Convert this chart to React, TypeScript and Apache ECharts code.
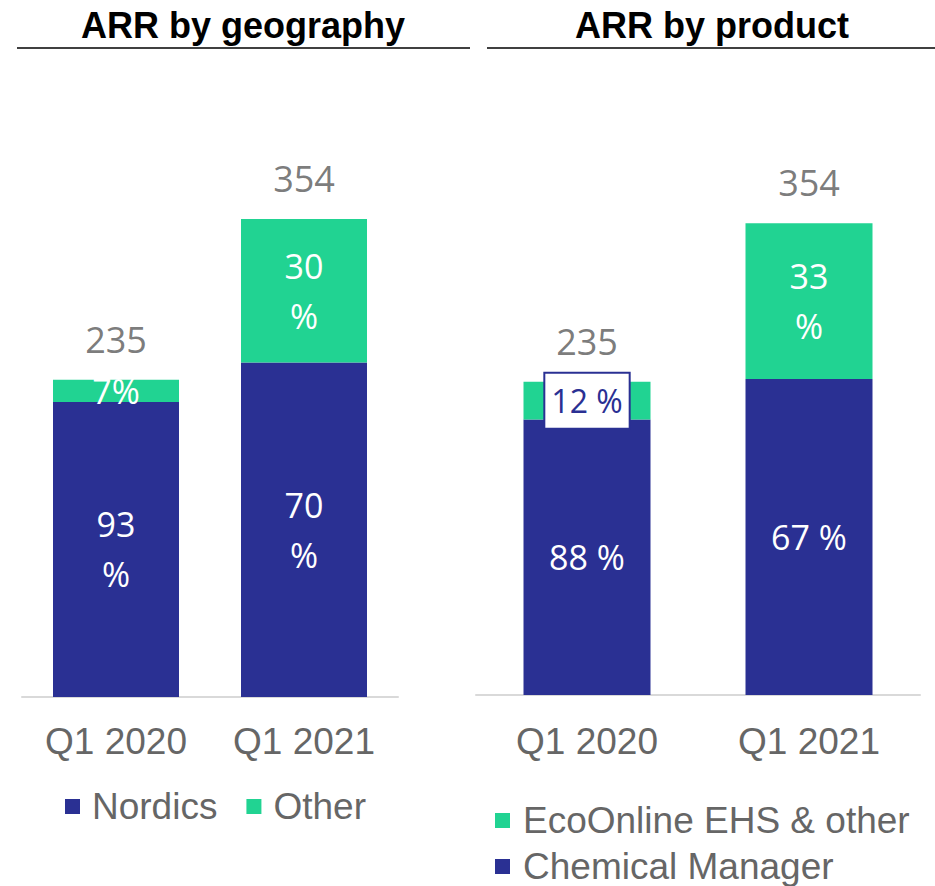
import React, { useEffect, useRef } from "react";
import * as echarts from "echarts";

const categories = ["Q1 2020", "Q1 2021"];

const geoTotals = [235, 354];
const nordicsPct = [93, 70];
const otherPct = [7, 30];
const nordicsLabels = ["93\n%", "70\n%"];
const otherLabels = ["7%", "30\n%"];

const productTotals = [235, 354];
const chemicalPct = [88, 67];
const ecoPct = [12, 33];
const chemicalLabels = ["88 %", "67 %"];
const ecoLabels = ["12 %", "33\n%"];

const NAVY = "#2A3093";
const GREEN = "#21D392";
const GREY = "#666666";
const SANS = "Liberation Sans";
const NUM = "Open Sans";

export default function App() {
  const ref = useRef<HTMLDivElement>(null);

  useEffect(() => {
    if (!ref.current) return;
    const chart = echarts.init(ref.current, undefined, { renderer: "svg" });

    const innerLabel = (labels: string[]) => ({
      show: true,
      position: "inside",
      formatter: (p: any) => labels[p.dataIndex],
      color: "#ffffff",
      fontSize: 34,
      lineHeight: 50,
      fontFamily: NUM,
    });

    const totalLabel = {
      show: true,
      position: "top",
      distance: 22,
      formatter: (p: any) => String(p.value),
      color: "#595959",
      fontSize: 36,
      fontFamily: NUM,
    };

    const xAxisBase = (gridIndex: number, margin: number) => ({
      gridIndex,
      type: "category",
      data: categories,
      axisLine: { lineStyle: { color: "#D9D9D9", width: 2 } },
      axisTick: { show: false },
      axisLabel: { fontSize: 37, color: GREY, margin, fontFamily: SANS },
    });

    const ecoData = productTotals.map((t, i) => {
      const v = (t * ecoPct[i]) / 100;
      if (i === 0) {
        return {
          value: v,
          label: {
            color: NAVY,
            backgroundColor: "#ffffff",
            borderColor: NAVY,
            borderWidth: 2,
            padding: [10, 6, 8, 6],
            fontSize: 32,
            lineHeight: 36,
          },
        };
      }
      return v;
    });

    chart.setOption({
      animation: false,
      graphic: [
        {
          type: "text",
          x: 243,
          y: 25,
          style: {
            text: "ARR by geography",
            textAlign: "center",
            textVerticalAlign: "middle",
            fontSize: 36,
            fontWeight: "bold",
            fontFamily: SANS,
            fill: "#000000",
          },
        },
        {
          type: "text",
          x: 712,
          y: 25,
          style: {
            text: "ARR by product",
            textAlign: "center",
            textVerticalAlign: "middle",
            fontSize: 36,
            fontWeight: "bold",
            fontFamily: SANS,
            fill: "#000000",
          },
        },
        {
          type: "line",
          shape: { x1: 17, y1: 48, x2: 470, y2: 48 },
          style: { stroke: "#404040", lineWidth: 2 },
        },
        {
          type: "line",
          shape: { x1: 487, y1: 48, x2: 935, y2: 48 },
          style: { stroke: "#404040", lineWidth: 2 },
        },
      ],
      legend: [
        {
          data: ["Nordics", "Other"],
          left: 65,
          top: 788,
          padding: 0,
          orient: "horizontal",
          icon: "rect",
          itemWidth: 15,
          itemHeight: 15,
          itemGap: 29,
          textStyle: { fontSize: 37, color: GREY, fontFamily: SANS, padding: [0, 0, 0, 7] },
        },
        {
          data: ["EcoOnline EHS & other", "Chemical Manager"],
          left: 495,
          top: 802,
          padding: 0,
          orient: "vertical",
          icon: "rect",
          itemWidth: 15,
          itemHeight: 15,
          itemGap: 9,
          textStyle: { fontSize: 37, lineHeight: 36, color: GREY, fontFamily: SANS, padding: [0, 0, 0, 8] },
        },
      ],
      grid: [
        { left: 22, width: 376, top: 157, bottom: 189 },
        { left: 476, width: 444, top: 162, bottom: 191 },
      ],
      xAxis: [xAxisBase(0, 26), xAxisBase(1, 28)],
      yAxis: [
        { gridIndex: 0, type: "value", min: 0, max: 400, show: false },
        { gridIndex: 1, type: "value", min: 0, max: 400, show: false },
      ],
      series: [
        {
          type: "bar",
          name: "Nordics",
          xAxisIndex: 0,
          yAxisIndex: 0,
          stack: "geo",
          barWidth: 126,
          data: geoTotals.map((t, i) => (t * nordicsPct[i]) / 100),
          itemStyle: { color: NAVY },
          label: innerLabel(nordicsLabels),
        },
        {
          type: "bar",
          name: "Other",
          xAxisIndex: 0,
          yAxisIndex: 0,
          stack: "geo",
          barWidth: 126,
          data: geoTotals.map((t, i) => (t * otherPct[i]) / 100),
          itemStyle: { color: GREEN },
          label: innerLabel(otherLabels),
        },
        {
          type: "scatter",
          xAxisIndex: 0,
          yAxisIndex: 0,
          symbolSize: 1,
          itemStyle: { color: "rgba(0,0,0,0)" },
          silent: true,
          data: geoTotals,
          label: totalLabel,
        },
        {
          type: "bar",
          name: "Chemical Manager",
          xAxisIndex: 1,
          yAxisIndex: 1,
          stack: "prod",
          barWidth: 127,
          data: productTotals.map((t, i) => (t * chemicalPct[i]) / 100),
          itemStyle: { color: NAVY },
          label: innerLabel(chemicalLabels),
        },
        {
          type: "bar",
          name: "EcoOnline EHS & other",
          xAxisIndex: 1,
          yAxisIndex: 1,
          stack: "prod",
          barWidth: 127,
          data: ecoData,
          itemStyle: { color: GREEN },
          label: innerLabel(ecoLabels),
        },
        {
          type: "scatter",
          xAxisIndex: 1,
          yAxisIndex: 1,
          symbolSize: 1,
          itemStyle: { color: "rgba(0,0,0,0)" },
          silent: true,
          data: productTotals,
          label: totalLabel,
        },
      ],
    });

    return () => chart.dispose();
  }, []);

  return (
    <div
      ref={ref}
      style={{ position: "absolute", left: 0, top: 0, width: 935, height: 886 }}
    />
  );
}
